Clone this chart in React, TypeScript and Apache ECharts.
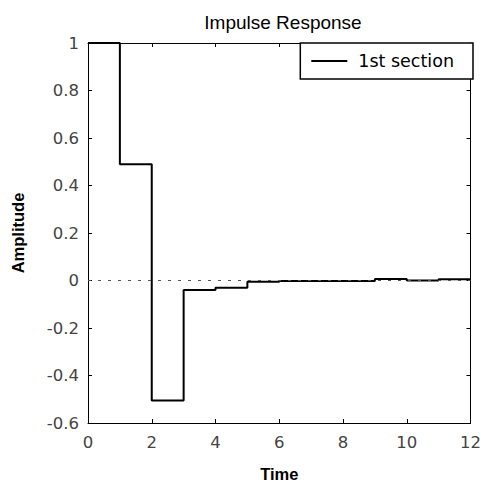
import React, { useEffect, useRef } from "react";
import * as echarts from "echarts";

const times = [0, 1, 2, 3, 4, 5, 6, 7, 8, 9, 10, 11, 12];
const amplitudes = [1, 0.49, -0.505, -0.04, -0.03, -0.005, -0.002, -0.002, -0.002, 0.006, 0, 0.005, 0.005];
const seriesName = "1st section";
const titleText = "Impulse Response";
const xLabel = "Time";
const yLabel = "Amplitude";

const ARIAL = "'Liberation Sans', Arial, sans-serif";
const WIDE = "'DejaVu Sans', Verdana, sans-serif";

export default function App() {
  const ref = useRef<HTMLDivElement>(null);
  useEffect(() => {
    if (!ref.current) return;
    const chart = echarts.init(ref.current, undefined, { renderer: "svg" });
    const data = times.map((t, i) => [t, amplitudes[i]]);
    const axisLine = { show: true, onZero: false, lineStyle: { color: "#000", width: 1 } };
    const tick = { show: true, inside: true, length: 4, lineStyle: { color: "#000" } };
    chart.setOption({
      animation: false,
      backgroundColor: "#fff",
      textStyle: { fontFamily: ARIAL },
      title: {
        text: titleText,
        left: 278,
        textAlign: "center",
        top: 8,
        textStyle: { fontSize: 19, fontWeight: "normal", color: "#000", fontFamily: ARIAL },
      },
      grid: { left: 88, right: 11, top: 43, bottom: 62 },
      legend: {
        right: 11,
        top: 43,
        orient: "horizontal",
        data: [{ name: seriesName, icon: "rect" }],
        itemWidth: 36,
        itemHeight: 2,
        itemGap: 0,
        padding: [9, 19, 9, 11],
        borderColor: "#000",
        borderWidth: 1.5,
        backgroundColor: "#fff",
        textStyle: { fontSize: 17.5, color: "#000", fontFamily: WIDE, padding: [0, 0, 0, 6] },
      },
      xAxis: [
        {
          type: "value",
          min: 0,
          max: 12,
          interval: 2,
          name: xLabel,
          nameLocation: "middle",
          nameGap: 42,
          nameTextStyle: { fontSize: 16.5, color: "#000", fontWeight: "bold", fontFamily: ARIAL },
          axisLine,
          axisTick: tick,
          splitLine: { show: false },
          axisLabel: { fontSize: 16.5, color: "#444", margin: 11, fontFamily: WIDE },
        },
        {
          type: "value",
          position: "top",
          min: 0,
          max: 12,
          interval: 2,
          axisLine,
          axisTick: tick,
          splitLine: { show: false },
          axisLabel: { show: false },
        },
      ],
      yAxis: [
        {
          type: "value",
          min: -0.6,
          max: 1,
          interval: 0.2,
          name: yLabel,
          nameLocation: "middle",
          nameGap: 62,
          nameTextStyle: { fontSize: 16.5, color: "#000", fontWeight: "bold", fontFamily: ARIAL },
          axisLine,
          axisTick: tick,
          splitLine: { show: false },
          axisLabel: {
            fontSize: 16.5,
            color: "#444",
            margin: 9,
            fontFamily: WIDE,
            formatter: (v: number) => String(Math.round(v * 10) / 10),
          },
        },
        {
          type: "value",
          position: "right",
          min: -0.6,
          max: 1,
          interval: 0.2,
          axisLine,
          axisTick: tick,
          splitLine: { show: false },
          axisLabel: { show: false },
        },
      ],
      series: [
        {
          name: seriesName,
          type: "line",
          step: "end",
          data,
          showSymbol: false,
          symbol: "none",
          itemStyle: { color: "#000" },
          lineStyle: { color: "#000", width: 2 },
          markLine: {
            silent: true,
            symbol: "none",
            label: { show: false },
            lineStyle: { color: "#555", type: [3, 7], width: 1 },
            data: [{ yAxis: 0 }],
          },
          z: 3,
        },
      ],
    });
    return () => chart.dispose();
  }, []);
  return (
    <div
      ref={ref}
      style={{ position: "fixed", left: 0, top: 0, width: 484, height: 487 }}
    />
  );
}
